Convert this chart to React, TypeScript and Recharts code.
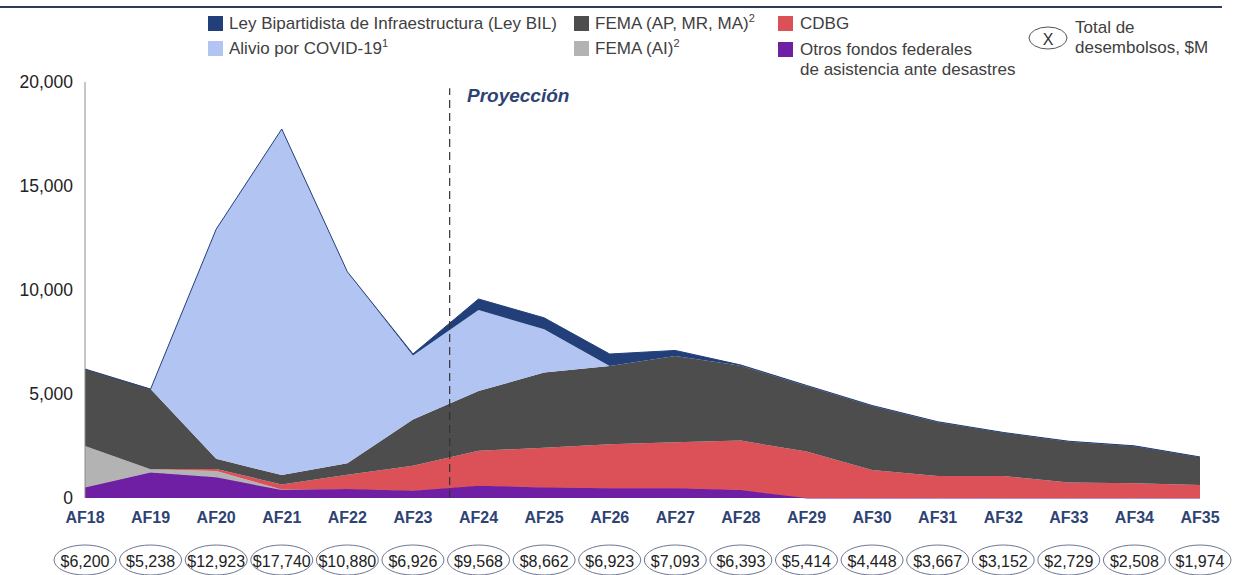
import { AreaChart, Area, XAxis, YAxis, ReferenceLine } from 'recharts'

const categories = ['AF18', 'AF19', 'AF20', 'AF21', 'AF22', 'AF23', 'AF24', 'AF25', 'AF26', 'AF27', 'AF28', 'AF29', 'AF30', 'AF31', 'AF32', 'AF33', 'AF34', 'AF35']
const totals = [6200, 5238, 12923, 17740, 10880, 6926, 9568, 8662, 6923, 7093, 6393, 5414, 4448, 3667, 3152, 2729, 2508, 1974]

// stacked bottom to top
const otros = [500, 1220, 1000, 380, 430, 350, 590, 510, 470, 470, 380, 0, 0, 0, 0, 0, 0, 0]
const femaAI = [2000, 160, 300, 30, 0, 0, 0, 0, 0, 0, 0, 0, 0, 0, 0, 0, 0, 0]
const cdbg = [0, 0, 100, 240, 690, 1200, 1680, 1910, 2110, 2210, 2380, 2230, 1350, 1060, 1060, 750, 710, 630]
const femaAP = [3700, 3858, 490, 450, 550, 2230, 2870, 3610, 3770, 4150, 3593, 3154, 3068, 2587, 2072, 1959, 1778, 1324]
const covid = [0, 0, 11033, 16640, 9210, 3066, 3900, 2080, 0, 0, 0, 0, 0, 0, 0, 0, 0, 0]
const bil = [0, 0, 0, 0, 0, 80, 528, 552, 573, 263, 40, 30, 30, 20, 20, 20, 20, 20]

const yTicks = [0, 5000, 10000, 15000, 20000]

const COLORS = {
  bil: '#223F7A',
  covid: '#B2C4F2',
  femaAP: '#4D4D4D',
  cdbg: '#DC5157',
  femaAI: '#B3B3B3',
  otros: '#6F1FA3',
}

const FONT = '"Liberation Sans", Arial, sans-serif'

const data = categories.map((c, i) => ({
  idx: i,
  name: c,
  otros: otros[i],
  femaAI: femaAI[i],
  cdbg: cdbg[i],
  femaAP: femaAP[i],
  covid: covid[i],
  bil: bil[i],
}))

const fmt = (v: number) => v.toLocaleString('en-US')

const XTick = (props: any) => {
  const { x, y, payload } = props
  const i = payload.value
  return (
    <g>
      <text x={x} y={y + 11} textAnchor="middle" dominantBaseline="central" fontWeight="bold" fontSize={16} fill="#2E4374" fontFamily={FONT}>
        {categories[i]}
      </text>
      <ellipse cx={x} cy={y + 54} rx={31} ry={15} fill="none" stroke="#6E7691" strokeWidth={1} />
      <text x={x} y={y + 55} textAnchor="middle" dominantBaseline="central" fontSize={16} fill="#222" fontFamily={FONT}>
        ${fmt(totals[i])}
      </text>
    </g>
  )
}

const Swatch = ({ color, x, y }: { color: string; x: number; y: number }) => (
  <div style={{ position: 'absolute', left: x, top: y, width: 15, height: 15, background: color }} />
)

const Label = ({ x, y, children }: { x: number; y: number; children: any }) => (
  <div style={{ position: 'absolute', left: x, top: y, fontSize: 17, color: '#404040', whiteSpace: 'nowrap', lineHeight: '20px' }}>
    {children}
  </div>
)

const sup = { fontSize: 11, verticalAlign: 'super' as const, lineHeight: 0 }

export default function App() {
  return (
    <div style={{ position: 'absolute', left: 0, top: 0, width: 1237, height: 575, background: '#fff', fontFamily: FONT, overflow: 'hidden' }}>
      {/* top rule */}
      <div style={{ position: 'absolute', left: 0, top: 6, width: 1222, height: 2, background: '#2D3C57' }} />

      {/* Legend */}
      <Swatch color={COLORS.bil} x={208} y={16} />
      <Label x={229} y={14}>Ley Bipartidista de Infraestructura (Ley BIL)</Label>
      <Swatch color={COLORS.covid} x={208} y={41} />
      <Label x={229} y={39}>Alivio por COVID-19<span style={sup}>1</span></Label>

      <Swatch color={COLORS.femaAP} x={574} y={16} />
      <Label x={595} y={14}>FEMA (AP, MR, MA)<span style={sup}>2</span></Label>
      <Swatch color={COLORS.femaAI} x={574} y={41} />
      <Label x={595} y={39}>FEMA (AI)<span style={sup}>2</span></Label>

      <Swatch color={COLORS.cdbg} x={778} y={16} />
      <Label x={800} y={14}>CDBG</Label>
      <Swatch color={COLORS.otros} x={778} y={42} />
      <Label x={800} y={40}>Otros fondos federales</Label>
      <Label x={800} y={60}>de asistencia ante desastres</Label>

      <svg style={{ position: 'absolute', left: 1027, top: 25 }} width={42} height={26}>
        <ellipse cx={21} cy={13} rx={19} ry={11} fill="none" stroke="#555" strokeWidth={1} />
        <text x={21} y={14} textAnchor="middle" dominantBaseline="central" fontSize={16} fill="#333" fontFamily={FONT}>X</text>
      </svg>
      <Label x={1075} y={18}>Total de</Label>
      <Label x={1075} y={38}>desembolsos, $M</Label>

      <div style={{ position: 'absolute', left: 467, top: 85, fontSize: 19, fontWeight: 'bold', fontStyle: 'italic', color: '#2E4374' }}>
        Proyección
      </div>

      <div style={{ position: 'absolute', left: 0, top: 0 }}>
        <AreaChart width={1237} height={575} data={data} margin={{ top: 82, right: 37, bottom: 0, left: 0 }}>
          <XAxis
            dataKey="idx"
            type="number"
            domain={[0, 17]}
            ticks={categories.map((_, i) => i)}
            interval={0}
            axisLine={false}
            tickLine={false}
            height={77}
            tick={<XTick />}
          />
          <YAxis
            domain={[0, 20000]}
            ticks={yTicks}
            width={85}
            axisLine={{ stroke: '#8C8C8C' }}
            tickLine={false}
            tickMargin={6}
            tickFormatter={fmt}
            tick={{ fontSize: 17.5, fill: '#222', fontFamily: FONT }}
          />
          <Area type="linear" dataKey="otros" stackId="1" fill={COLORS.otros} fillOpacity={1} stroke={COLORS.otros} strokeWidth={1} isAnimationActive={false} />
          <Area type="linear" dataKey="femaAI" stackId="1" fill={COLORS.femaAI} fillOpacity={1} stroke="none" isAnimationActive={false} />
          <Area type="linear" dataKey="cdbg" stackId="1" fill={COLORS.cdbg} fillOpacity={1} stroke="none" isAnimationActive={false} />
          <Area type="linear" dataKey="femaAP" stackId="1" fill={COLORS.femaAP} fillOpacity={1} stroke="none" isAnimationActive={false} />
          <Area type="linear" dataKey="covid" stackId="1" fill={COLORS.covid} fillOpacity={1} stroke="none" isAnimationActive={false} />
          <Area type="linear" dataKey="bil" stackId="1" fill={COLORS.bil} fillOpacity={1} stroke={COLORS.bil} strokeWidth={1} isAnimationActive={false} />
          <ReferenceLine
            segment={[{ x: 5.56, y: 0 }, { x: 5.56, y: 19700 }]}
            stroke="#333"
            strokeWidth={1.2}
            strokeDasharray="8 5"
          />
        </AreaChart>
      </div>
    </div>
  )
}
